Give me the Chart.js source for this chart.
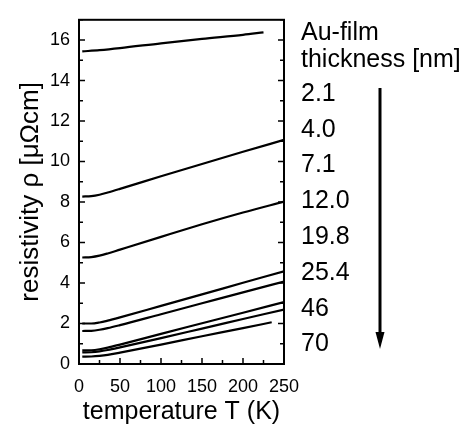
<!DOCTYPE html>
<html>
<head>
<meta charset="utf-8">
<script src="https://cdn.jsdelivr.net/npm/chart.js@4"></script>
<style>
  html, body { margin: 0; padding: 0; background: #fff; }
  #wrap { width: 466px; height: 428px; }
</style>
</head>
<body>
<div id="wrap"><canvas id="chart" width="466" height="428"></canvas></div>
<script>
// thickness labels (nm), top to bottom
const thickness = ['2.1', '4.0', '7.1', '12.0', '19.8', '25.4', '46', '70'];
const legendHead = ['Au-film', 'thickness [nm]'];

// temperature grid (K) and resistivity (µΩcm)
const tempA = [4, 25, 50, 100, 150, 200, 225];
const rho21 = [15.44, 15.50, 15.60, 15.84, 16.06, 16.26, 16.38];

const tempB = [4, 15, 25, 35, 50, 100, 150, 200, 250];
const rho40 = [8.27, 8.29, 8.36, 8.47, 8.65, 9.27, 9.88, 10.48, 11.07];
const rho71 = [5.26, 5.28, 5.35, 5.46, 5.65, 6.28, 6.90, 7.48, 8.02];
const rho120 = [2.00, 2.00, 2.05, 2.14, 2.30, 2.87, 3.44, 4.01, 4.58];
const rho198 = [1.63, 1.64, 1.69, 1.77, 1.92, 2.46, 3.00, 3.54, 4.07];
const rho254 = [0.67, 0.68, 0.73, 0.81, 0.96, 1.49, 2.01, 2.53, 3.06];
const rho46 = [0.57, 0.58, 0.62, 0.69, 0.82, 1.28, 1.75, 2.22, 2.69];

const tempC = [4, 15, 25, 35, 50, 100, 150, 200, 235];
const rho70 = [0.36, 0.37, 0.40, 0.45, 0.56, 0.96, 1.37, 1.77, 2.06];

const xLabels = [0, 50, 100, 150, 200, 250];
const yLabels = [0, 2, 4, 6, 8, 10, 12, 14, 16];

const FONT = '"Liberation Sans", Arial, sans-serif';

function pts(xs, ys) {
  return xs.map((x, i) => ({ x: x, y: ys[i] }));
}

const curves = [
  pts(tempA, rho21), pts(tempB, rho40), pts(tempB, rho71), pts(tempB, rho120),
  pts(tempB, rho198), pts(tempB, rho254), pts(tempB, rho46), pts(tempC, rho70)
];

// frame, inward ticks, thickness list and arrow
const decor = {
  id: 'decor',
  afterDraw(chart) {
    const ctx = chart.ctx;
    const a = chart.chartArea;
    const xs = chart.scales.x;
    const ys = chart.scales.y;
    ctx.save();
    ctx.strokeStyle = '#000';
    ctx.lineWidth = 2;
    ctx.strokeRect(a.left, a.top, a.right - a.left, a.bottom - a.top);

    ctx.lineWidth = 1.5;
    ctx.beginPath();
    xs.ticks.forEach(t => {
      const px = xs.getPixelForValue(t.value);
      const len = xLabels.includes(t.value) ? 6 : 4;
      ctx.moveTo(px, a.bottom);
      ctx.lineTo(px, a.bottom - len);
    });
    ys.ticks.forEach(t => {
      const py = ys.getPixelForValue(t.value);
      const len = yLabels.includes(t.value) ? 6 : 4;
      ctx.moveTo(a.left, py);
      ctx.lineTo(a.left + len, py);
      ctx.moveTo(a.right, py);
      ctx.lineTo(a.right - len, py);
    });
    ctx.stroke();

    ctx.fillStyle = '#000';
    ctx.font = '25px ' + FONT;
    ctx.textAlign = 'left';
    ctx.textBaseline = 'middle';
    ctx.fillText(legendHead[0], 301, 33);
    ctx.fillText(legendHead[1], 301, 60);
    thickness.forEach((s, i) => {
      ctx.fillText(s, 301, 94 + i * 35.8);
    });

    ctx.lineWidth = 3;
    ctx.beginPath();
    ctx.moveTo(380, 88);
    ctx.lineTo(380, 336);
    ctx.stroke();
    ctx.beginPath();
    ctx.moveTo(375.5, 332);
    ctx.lineTo(384.5, 332);
    ctx.lineTo(380, 349);
    ctx.closePath();
    ctx.fill();
    ctx.restore();
  }
};

new Chart(document.getElementById('chart').getContext('2d'), {
  type: 'scatter',
  data: {
    datasets: curves.map((d, i) => ({
      label: thickness[i] + ' nm',
      data: d,
      showLine: true,
      borderColor: '#000',
      backgroundColor: '#000',
      borderWidth: 2.2,
      pointRadius: 0,
      cubicInterpolationMode: 'monotone'
    }))
  },
  options: {
    responsive: false,
    animation: false,
    devicePixelRatio: 1,
    layout: { padding: { left: 0, right: 182, top: 15, bottom: 0 } },
    plugins: { legend: { display: false }, tooltip: { enabled: false } },
    scales: {
      x: {
        type: 'linear',
        min: 0,
        max: 250,
        afterFit(scale) { scale.height = 64; },
        grid: { display: false, drawTicks: false },
        border: { display: false },
        ticks: {
          stepSize: 25,
          autoSkip: false,
          maxRotation: 0,
          padding: 12,
          color: '#000',
          font: { family: FONT, size: 18 },
          callback: v => (xLabels.includes(v) ? String(v) : '')
        },
        title: {
          display: true,
          text: 'temperature T (K)',
          color: '#000',
          font: { family: FONT, size: 25 },
          padding: { top: 0, bottom: 1 }
        }
      },
      y: {
        type: 'linear',
        min: 0,
        max: 17,
        afterFit(scale) { scale.width = 79; },
        grid: { display: false, drawTicks: false },
        border: { display: false },
        ticks: {
          stepSize: 1,
          autoSkip: false,
          padding: 9,
          color: '#000',
          font: { family: FONT, size: 18 },
          callback: v => (yLabels.includes(v) ? String(v) : '')
        },
        title: {
          display: true,
          text: 'resistivity ρ [μΩcm]',
          color: '#000',
          font: { family: FONT, size: 26 },
          padding: { top: 15, bottom: 0 }
        }
      }
    }
  },
  plugins: [decor]
});
</script>
</body>
</html>
